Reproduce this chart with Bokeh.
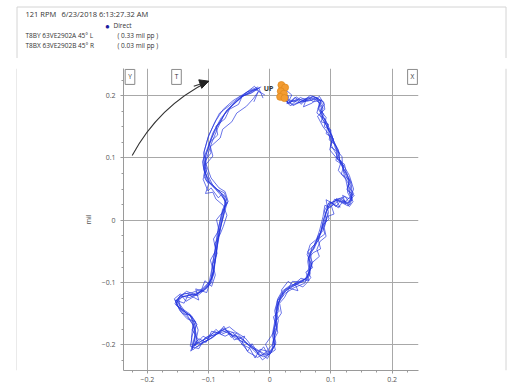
import numpy as np
from bokeh.plotting import figure
from bokeh.layouts import column, row
from bokeh.models import Range1d, Label, Arrow, NormalHead, FixedTicker, ColumnDataSource
from bokeh.embed import file_html
from bokeh.resources import INLINE

# ---- orbit samples (mil), one list per shaft revolution ----
rev1_x = [0.026, 0.034, 0.045, 0.058, 0.072, 0.083, 0.080, 0.091, 0.099, 0.104, 0.113, 0.115, 0.126, 0.132, 0.134, 0.126, 0.110, 0.096, 0.091, 0.085, 0.080, 0.069, 0.064, 0.066, 0.061, 0.045, 0.028, 0.017, 0.012, 0.009, 0.007, 0.007, 0.001, -0.010, -0.021, -0.037, -0.053, -0.070, -0.086, -0.102, -0.119, -0.124, -0.121, -0.127, -0.143, -0.151, -0.143, -0.124, -0.108, -0.097, -0.091, -0.086, -0.080, -0.075, -0.072, -0.080, -0.091, -0.102, -0.107, -0.105, -0.097, -0.086, -0.070, -0.053, -0.037, -0.021]
rev1_y = [0.198, 0.190, 0.193, 0.195, 0.198, 0.193, 0.177, 0.161, 0.144, 0.128, 0.107, 0.091, 0.075, 0.054, 0.032, 0.027, 0.032, 0.027, 0.011, -0.011, -0.032, -0.043, -0.064, -0.086, -0.096, -0.102, -0.112, -0.123, -0.139, -0.166, -0.187, -0.203, -0.214, -0.219, -0.214, -0.198, -0.182, -0.177, -0.182, -0.193, -0.203, -0.198, -0.171, -0.155, -0.144, -0.131, -0.123, -0.118, -0.112, -0.102, -0.075, -0.043, -0.011, 0.011, 0.032, 0.043, 0.054, 0.064, 0.086, 0.102, 0.128, 0.150, 0.177, 0.193, 0.206, 0.211]

rev2_x = [0.022, 0.030, 0.041, 0.052, 0.066, 0.079, 0.086, 0.084, 0.094, 0.097, 0.108, 0.110, 0.119, 0.122, 0.129, 0.131, 0.136, 0.130, 0.118, 0.103, 0.094, 0.088, 0.083, 0.076, 0.067, 0.068, 0.062, 0.057, 0.040, 0.024, 0.015, 0.010, 0.012, 0.005, 0.004, -0.004, -0.016, -0.028, -0.044, -0.061, -0.078, -0.093, -0.111, -0.126, -0.128, -0.125, -0.131, -0.146, -0.149, -0.139, -0.118, -0.102, -0.094, -0.088, -0.084, -0.078, -0.073, -0.075, -0.085, -0.097, -0.105, -0.110, -0.102, -0.093, -0.079, -0.061, -0.044, -0.028, -0.014]
rev2_y = [0.203, 0.188, 0.197, 0.190, 0.200, 0.196, 0.186, 0.170, 0.155, 0.138, 0.118, 0.100, 0.088, 0.070, 0.058, 0.041, 0.030, 0.022, 0.036, 0.024, 0.018, 0.002, -0.020, -0.038, -0.050, -0.072, -0.090, -0.101, -0.108, -0.118, -0.131, -0.150, -0.172, -0.195, -0.208, -0.222, -0.211, -0.205, -0.191, -0.185, -0.176, -0.188, -0.197, -0.208, -0.188, -0.163, -0.150, -0.140, -0.126, -0.117, -0.121, -0.108, -0.090, -0.060, -0.028, 0.000, 0.022, 0.040, 0.048, 0.060, 0.075, 0.094, 0.115, 0.140, 0.165, 0.184, 0.199, 0.208, 0.214]

rev3_x = [0.018, 0.027, 0.036, 0.050, 0.062, 0.070, 0.088, 0.090, 0.078, 0.087, 0.095, 0.101, 0.098, 0.109, 0.117, 0.112, 0.124, 0.128, 0.135, 0.131, 0.120, 0.112, 0.098, 0.089, 0.093, 0.087, 0.079, 0.072, 0.062, 0.070, 0.066, 0.060, 0.050, 0.035, 0.021, 0.013, 0.008, 0.011, 0.006, 0.009, -0.002, -0.014, -0.026, -0.040, -0.056, -0.066, -0.081, -0.097, -0.114, -0.121, -0.117, -0.123, -0.137, -0.153, -0.147, -0.131, -0.113, -0.101, -0.092, -0.089, -0.083, -0.076, -0.070, -0.078, -0.089, -0.099, -0.108, -0.104, -0.099, -0.090, -0.074, -0.058, -0.040, -0.024, -0.008]
rev3_y = [0.207, 0.192, 0.186, 0.197, 0.192, 0.199, 0.190, 0.178, 0.167, 0.150, 0.140, 0.126, 0.113, 0.100, 0.095, 0.080, 0.066, 0.048, 0.036, 0.025, 0.031, 0.020, 0.030, 0.015, 0.003, -0.016, -0.028, -0.041, -0.050, -0.068, -0.080, -0.093, -0.097, -0.106, -0.115, -0.128, -0.145, -0.160, -0.180, -0.200, -0.212, -0.217, -0.206, -0.189, -0.179, -0.171, -0.178, -0.190, -0.198, -0.195, -0.176, -0.160, -0.148, -0.136, -0.121, -0.124, -0.115, -0.104, -0.088, -0.055, -0.020, 0.005, 0.027, 0.038, 0.050, 0.060, 0.082, 0.106, 0.120, 0.145, 0.170, 0.188, 0.202, 0.210, 0.201]

rev4_x = [0.024, 0.033, 0.048, 0.061, 0.074, 0.081, 0.077, 0.089, 0.093, 0.102, 0.100, 0.110, 0.116, 0.121, 0.129, 0.127, 0.133, 0.128, 0.116, 0.106, 0.099, 0.090, 0.087, 0.082, 0.077, 0.066, 0.061, 0.068, 0.064, 0.052, 0.037, 0.030, 0.019, 0.014, 0.011, 0.006, 0.010, 0.003, -0.006, -0.018, -0.031, -0.048, -0.061, -0.073, -0.089, -0.106, -0.116, -0.130, -0.126, -0.119, -0.128, -0.140, -0.155, -0.150, -0.136, -0.120, -0.105, -0.096, -0.093, -0.087, -0.082, -0.077, -0.068, -0.073, -0.083, -0.096, -0.104, -0.108, -0.101, -0.091, -0.082, -0.066, -0.049, -0.032, -0.018, -0.011]
rev4_y = [0.195, 0.184, 0.189, 0.191, 0.194, 0.188, 0.172, 0.163, 0.150, 0.135, 0.121, 0.104, 0.094, 0.079, 0.062, 0.045, 0.034, 0.023, 0.029, 0.034, 0.021, 0.024, 0.006, -0.014, -0.030, -0.039, -0.055, -0.070, -0.089, -0.099, -0.098, -0.110, -0.119, -0.134, -0.156, -0.178, -0.197, -0.210, -0.216, -0.209, -0.201, -0.193, -0.180, -0.186, -0.179, -0.189, -0.206, -0.202, -0.182, -0.167, -0.153, -0.147, -0.134, -0.125, -0.114, -0.120, -0.107, -0.095, -0.068, -0.036, -0.005, 0.018, 0.030, 0.046, 0.052, 0.068, 0.090, 0.108, 0.132, 0.155, 0.172, 0.184, 0.198, 0.204, 0.212, 0.196]

rev5_x = [0.020, 0.029, 0.038, 0.054, 0.068, 0.076, 0.084, 0.082, 0.093, 0.098, 0.106, 0.112, 0.114, 0.123, 0.130, 0.137, 0.132, 0.122, 0.114, 0.101, 0.092, 0.096, 0.089, 0.081, 0.074, 0.071, 0.063, 0.066, 0.058, 0.042, 0.026, 0.018, 0.011, 0.008, 0.004, 0.008, -0.004, -0.012, -0.024, -0.034, -0.050, -0.064, -0.076, -0.092, -0.108, -0.122, -0.129, -0.122, -0.126, -0.141, -0.152, -0.144, -0.127, -0.110, -0.099, -0.095, -0.090, -0.085, -0.079, -0.074, -0.071, -0.082, -0.093, -0.100, -0.106, -0.103, -0.095, -0.085, -0.072, -0.055, -0.041, -0.025, -0.016]
rev5_y = [0.201, 0.194, 0.184, 0.192, 0.193, 0.197, 0.181, 0.168, 0.152, 0.142, 0.124, 0.113, 0.097, 0.084, 0.072, 0.050, 0.038, 0.029, 0.035, 0.028, 0.033, 0.012, -0.006, -0.024, -0.036, -0.047, -0.060, -0.078, -0.094, -0.104, -0.110, -0.125, -0.141, -0.163, -0.184, -0.200, -0.218, -0.224, -0.208, -0.201, -0.187, -0.183, -0.173, -0.184, -0.192, -0.200, -0.210, -0.184, -0.166, -0.143, -0.128, -0.119, -0.116, -0.110, -0.099, -0.080, -0.050, -0.016, 0.008, 0.020, 0.036, 0.046, 0.056, 0.070, 0.086, 0.100, 0.124, 0.148, 0.174, 0.190, 0.203, 0.215, 0.205]

rev6_x = [0.017, 0.025, 0.032, 0.043, 0.056, 0.065, 0.078, 0.087, 0.085, 0.095, 0.103, 0.107, 0.118, 0.119, 0.127, 0.133, 0.135, 0.129, 0.117, 0.108, 0.100, 0.093, 0.090, 0.084, 0.078, 0.073, 0.065, 0.062, 0.065, 0.059, 0.047, 0.031, 0.020, 0.013, 0.010, 0.014, 0.009, 0.005, -0.008, -0.020, -0.036, -0.045, -0.058, -0.074, -0.084, -0.099, -0.116, -0.125, -0.119, -0.124, -0.133, -0.148, -0.154, -0.141, -0.121, -0.107, -0.095, -0.090, -0.086, -0.081, -0.076, -0.069, -0.074, -0.087, -0.094, -0.104, -0.109, -0.107, -0.100, -0.088, -0.076, -0.060, -0.047, -0.031, -0.019]
rev6_y = [0.199, 0.192, 0.187, 0.198, 0.190, 0.196, 0.194, 0.180, 0.165, 0.148, 0.131, 0.116, 0.102, 0.086, 0.070, 0.059, 0.040, 0.028, 0.033, 0.022, 0.029, 0.016, 0.001, -0.018, -0.026, -0.045, -0.052, -0.066, -0.084, -0.094, -0.100, -0.106, -0.114, -0.126, -0.143, -0.161, -0.181, -0.199, -0.213, -0.220, -0.211, -0.195, -0.188, -0.174, -0.182, -0.186, -0.196, -0.201, -0.193, -0.170, -0.157, -0.141, -0.129, -0.122, -0.119, -0.112, -0.100, -0.073, -0.040, -0.008, 0.016, 0.028, 0.044, 0.050, 0.057, 0.064, 0.088, 0.111, 0.136, 0.160, 0.178, 0.192, 0.200, 0.209, 0.214]

rev7_x = [0.021, 0.031, 0.028, 0.044, 0.051, 0.063, 0.071, 0.085, 0.079, 0.088, 0.084, 0.096, 0.092, 0.104, 0.099, 0.111, 0.108, 0.121, 0.117, 0.130, 0.126, 0.138, 0.129, 0.123, 0.108, 0.115, 0.099, 0.093, 0.097, 0.086, 0.090, 0.079, 0.083, 0.071, 0.063, 0.070, 0.059, 0.064, 0.051, 0.038, 0.030, 0.019, 0.022, 0.012, 0.015, 0.006, 0.011, 0.003, -0.007, -0.001, -0.016, -0.024, -0.033, -0.046, -0.041, -0.058, -0.067, -0.079, -0.088, -0.101, -0.109, -0.123, -0.117, -0.127, -0.121, -0.135, -0.147, -0.154, -0.140, -0.133, -0.116, -0.121, -0.103, -0.098, -0.092, -0.097, -0.088, -0.092, -0.083, -0.087, -0.078, -0.071, -0.079, -0.084, -0.096, -0.101, -0.109, -0.103, -0.106, -0.096, -0.099, -0.085, -0.088, -0.073, -0.066, -0.051, -0.045, -0.030, -0.016]
rev7_y = [0.205, 0.199, 0.187, 0.194, 0.186, 0.197, 0.190, 0.193, 0.179, 0.171, 0.158, 0.154, 0.139, 0.131, 0.118, 0.110, 0.096, 0.088, 0.074, 0.065, 0.049, 0.040, 0.030, 0.038, 0.033, 0.021, 0.028, 0.014, 0.002, -0.008, -0.022, -0.030, -0.046, -0.052, -0.061, -0.076, -0.083, -0.097, -0.093, -0.104, -0.098, -0.112, -0.121, -0.129, -0.146, -0.155, -0.172, -0.185, -0.199, -0.211, -0.207, -0.221, -0.205, -0.199, -0.186, -0.192, -0.178, -0.183, -0.175, -0.190, -0.186, -0.201, -0.191, -0.176, -0.163, -0.158, -0.145, -0.128, -0.133, -0.119, -0.128, -0.110, -0.116, -0.100, -0.082, -0.064, -0.048, -0.030, -0.016, 0.001, 0.012, 0.028, 0.041, 0.036, 0.052, 0.047, 0.066, 0.081, 0.095, 0.108, 0.124, 0.137, 0.151, 0.163, 0.178, 0.186, 0.199, 0.204, 0.213]

rev8_x = [0.025, 0.036, 0.032, 0.047, 0.060, 0.055, 0.069, 0.081, 0.089, 0.083, 0.092, 0.089, 0.100, 0.097, 0.107, 0.114, 0.110, 0.122, 0.125, 0.133, 0.128, 0.137, 0.131, 0.119, 0.124, 0.109, 0.101, 0.105, 0.094, 0.089, 0.092, 0.082, 0.077, 0.081, 0.068, 0.062, 0.067, 0.061, 0.054, 0.041, 0.046, 0.032, 0.024, 0.016, 0.019, 0.010, 0.013, 0.006, 0.009, -0.003, -0.010, -0.019, -0.029, -0.036, -0.049, -0.056, -0.063, -0.075, -0.084, -0.095, -0.104, -0.116, -0.127, -0.120, -0.124, -0.130, -0.142, -0.150, -0.156, -0.146, -0.137, -0.125, -0.112, -0.106, -0.095, -0.089, -0.093, -0.086, -0.090, -0.081, -0.076, -0.070, -0.076, -0.088, -0.093, -0.105, -0.100, -0.108, -0.104, -0.093, -0.097, -0.081, -0.077, -0.062, -0.054, -0.038, -0.027, -0.019, -0.026]
rev8_y = [0.210, 0.201, 0.193, 0.189, 0.195, 0.182, 0.188, 0.199, 0.186, 0.176, 0.165, 0.150, 0.145, 0.129, 0.121, 0.108, 0.098, 0.090, 0.076, 0.061, 0.055, 0.043, 0.034, 0.040, 0.026, 0.035, 0.022, 0.010, 0.006, -0.012, -0.026, -0.034, -0.047, -0.058, -0.069, -0.081, -0.092, -0.100, -0.107, -0.101, -0.113, -0.109, -0.124, -0.133, -0.149, -0.162, -0.180, -0.193, -0.208, -0.216, -0.203, -0.214, -0.198, -0.210, -0.194, -0.183, -0.188, -0.170, -0.181, -0.178, -0.196, -0.190, -0.205, -0.183, -0.169, -0.152, -0.150, -0.139, -0.126, -0.118, -0.130, -0.123, -0.113, -0.097, -0.106, -0.088, -0.070, -0.053, -0.038, -0.022, -0.010, 0.008, 0.024, 0.034, 0.045, 0.043, 0.058, 0.071, 0.090, 0.103, 0.118, 0.132, 0.146, 0.158, 0.172, 0.183, 0.195, 0.206, 0.190]

# keyphasor dots, one per revolution
kp_x = [0.019, 0.025, 0.018, 0.023, 0.017, 0.024]
kp_y = [0.217, 0.213, 0.207, 0.203, 0.198, 0.196]

major_ticks = [-0.2, -0.1, 0.0, 0.1, 0.2]

FONT = "Open Sans"
TXT = "#333333"
GRID = "#a8a8a8"
FRAME = "#d4d4d4"


def bare(w, h, xr, yr):
    f = figure(width=w, height=h, output_backend="svg", toolbar_location=None,
               x_range=xr, y_range=yr, min_border=0,
               x_axis_type=None, y_axis_type=None)
    f.grid.visible = False
    f.outline_line_color = None
    return f


# ---- header block (pixel-like coordinates, y pointing down) ----
head = bare(507, 58, Range1d(0, 507), Range1d(58, 0))
head.line([16.5, 16.5, 505.5, 505.5], [58, 6.5, 6.5, 58], line_color=FRAME, line_width=1)


def hdr(x, y, text, size="6.5px", color=TXT):
    head.add_layout(Label(x=x, y=y, text=text, text_font=FONT, text_font_size=size,
                          text_color=color, text_baseline="middle", text_align="left"))


hdr(25, 13, "121 RPM", size="7.5px")
hdr(61, 13, "6/23/2018 6:13:27.32 AM", size="7.5px")
hdr(104.5, 25, "\u25cf", size="8px", color="#1c1ca0")
hdr(113, 25, "Direct")
hdr(25, 35, "T8BY 63VE2902A  45\u00b0 L")
hdr(117, 35, "( 0.33 mil pp )")
hdr(25, 45, "T8BX 63VE2902B  45\u00b0 R")
hdr(117, 45, "( 0.03 mil pp )")

# side strips carrying the page frame
left_strip = bare(17, 329, Range1d(0, 17), Range1d(0, 329))
left_strip.line([16.5, 16.5], [0, 329], line_color=FRAME, line_width=1)
right_strip = bare(3, 329, Range1d(0, 3), Range1d(0, 329))
right_strip.line([1.5, 1.5], [0, 329], line_color=FRAME, line_width=1)

# ---- orbit plot ----
p = figure(width=487, height=329, output_backend="svg", toolbar_location=None,
           x_range=Range1d(-0.239, 0.243), y_range=Range1d(-0.241, 0.2435),
           min_border_left=106, min_border_right=86, min_border_top=10,
           min_border_bottom=17)
p.outline_line_color = None

minor = [round(v, 3) for v in np.arange(-0.225, 0.2401, 0.025) if round(v, 3) not in major_ticks]
for ax in (p.xaxis[0], p.yaxis[0]):
    ax.ticker = FixedTicker(ticks=major_ticks, minor_ticks=minor)
    ax.axis_line_color = "#9a9a9a"
    ax.major_tick_line_color = "#9a9a9a"
    ax.minor_tick_line_color = "#9a9a9a"
    ax.major_tick_in = 0
    ax.major_tick_out = 3
    ax.minor_tick_in = 0
    ax.minor_tick_out = 2
    ax.major_label_text_font = FONT
    ax.major_label_text_font_size = "7px"
    ax.major_label_text_color = "#555555"
p.xaxis.major_label_standoff = 3
p.yaxis.major_label_standoff = 5
p.yaxis.axis_label = "mil"
p.yaxis.axis_label_text_font = FONT
p.yaxis.axis_label_text_font_size = "7px"
p.yaxis.axis_label_text_font_style = "normal"
p.yaxis.axis_label_text_color = "#555555"
p.yaxis.axis_label_standoff = 6

for g in (p.xgrid[0], p.ygrid[0]):
    g.ticker = FixedTicker(ticks=major_ticks)
    g.grid_line_color = GRID
    g.grid_line_width = 1

orbit = ColumnDataSource(dict(
    xs=[rev1_x, rev2_x, rev3_x, rev4_x, rev5_x, rev6_x, rev7_x, rev8_x],
    ys=[rev1_y, rev2_y, rev3_y, rev4_y, rev5_y, rev6_y, rev7_y, rev8_y],
))
p.multi_line("xs", "ys", source=orbit, line_color="#2233dd", line_width=0.8, line_alpha=0.85)

p.scatter(kp_x, kp_y, size=7, fill_color="#f39c32", line_color="#e08a1e", line_width=0.8)

# rotation direction arrow
p.quadratic(x0=[-0.2248], y0=[0.1040], x1=[-0.0997], y1=[0.2232],
            cx=[-0.1815], cy=[0.1832], line_color="#333333", line_width=1.1)
p.add_layout(Arrow(x_start=-0.1242, y_start=0.2149, x_end=-0.0997, y_end=0.2232,
                   line_color="#333333", line_width=1.1,
                   end=NormalHead(size=9, fill_color="#222222", line_color="#222222")))

p.add_layout(Label(x=-0.002, y=0.2107, text="UP", text_font=FONT, text_font_size="7px",
                   text_font_style="bold", text_color=TXT, text_align="center",
                   text_baseline="middle"))

# probe boxes
for bx, t in [(-0.2284, "Y"), (-0.1524, "T"), (0.2332, "X")]:
    p.add_layout(Label(x=bx, y=0.2300, text=t, text_font=FONT, text_font_size="6.5px",
                       text_color=TXT, text_align="center", text_baseline="middle",
                       border_line_color="#888888", border_line_width=1,
                       background_fill_color="white", padding=3))

layout = column(head, row(left_strip, p, right_strip))
open("out.html", "w").write(file_html(layout, INLINE))
